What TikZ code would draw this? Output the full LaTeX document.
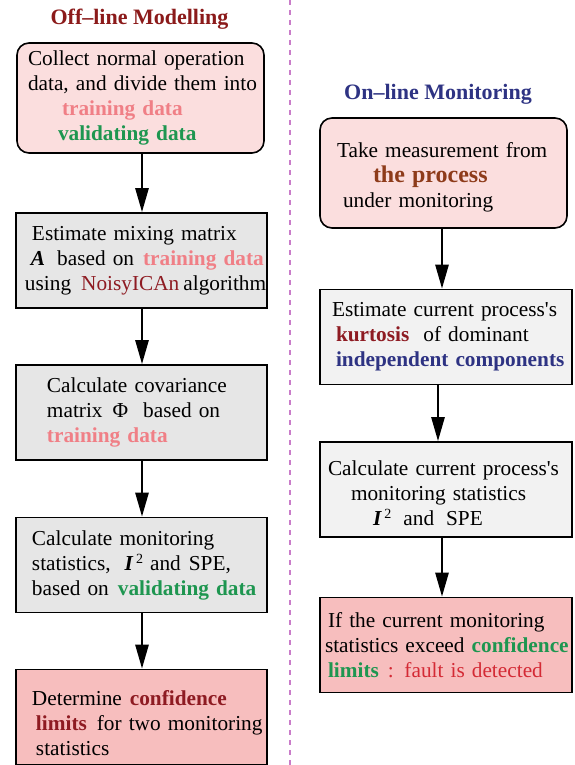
\documentclass[tikz,border=0pt]{standalone}
\usepackage{fontspec}
\setmainfont{Liberation Serif}
\usetikzlibrary{arrows.meta}
\definecolor{offred}{HTML}{8B1A1A}
\definecolor{onblue}{HTML}{2E3383}
\definecolor{trainpink}{HTML}{F07F86}
\definecolor{validgreen}{HTML}{1E9650}
\definecolor{darkred}{HTML}{8E1B22}
\definecolor{procbrown}{HTML}{8E3B1A}
\definecolor{faultred}{HTML}{D42A35}
\definecolor{startpink}{HTML}{FBDEDE}
\definecolor{endpink}{HTML}{F7BEBE}
\definecolor{offgray}{HTML}{E6E6E6}
\definecolor{ongray}{HTML}{F2F2F2}
\definecolor{divider}{HTML}{C97CC9}
\newcommand{\sqstat}{\textbf{\textit{I}}\hspace{2.5pt}\raisebox{7pt}{\fontsize{14pt}{14pt}\selectfont 2}}
\tikzset{stepbox/.style={draw=black, line width=1.6pt, align=left, inner xsep=0pt, minimum height=95pt},
	startbox/.style={stepbox, rounded corners=12pt, fill=startpink, minimum height=110pt},
	offbox/.style={stepbox, fill=offgray, text width=251pt, minimum width=251pt},
	onbox/.style={stepbox, fill=ongray, text width=252pt, minimum width=252pt},
	flow/.style={-{Triangle[length=24pt, width=13pt]}, line width=2.6pt},
	heading/.style={anchor=base, font=\fontsize{22pt}{26pt}\selectfont\bfseries}}

\begin{document}
\begin{tikzpicture}[x=1pt, y=-1pt]
		\fontsize{21.3pt}{25pt}\selectfont
		\useasboundingbox (0,0) rectangle (574,765);
		\draw[divider, line width=1.4pt, dash pattern=on 5pt off 5pt] (290,0) -- (290,765);
		
		% off-line side
		\node[heading, offred] (offtitle) at (139.5,25) {Off–line Modelling};
		\node[startbox, text width=247pt, minimum width=247pt] (collect) at (140.5,98) {%
			\hspace*{11pt}Collect normal operation\\
			\hspace*{11pt}data, and divide them into\\
			\hspace*{45pt}\textcolor{trainpink}{\textbf{training data}}\\
			\hspace*{41pt}\textcolor{validgreen}{\textbf{validating data}}};
		\node[offbox] (mixing) at (141.5,260.5) {%
			\hspace*{16pt}Estimate mixing matrix\\
			\hspace*{15pt}\textbf{\textit{A}}\hspace{12pt}based on\hspace{9pt}\textcolor{trainpink}{\textbf{training data}}\\
			\hspace*{9pt}using\hspace{10pt}\textcolor{darkred}{NoisyICAn}\hspace{4pt}algorithm};
		\node[offbox] (covar) at (141.5,412.5) {%
			\hspace*{31pt}Calculate covariance\\
			\hspace*{31pt}matrix\hspace{10pt}Φ\hspace{15pt}based on\\
			\hspace*{31pt}\textcolor{trainpink}{\textbf{training data}}};
		\node[offbox] (stats) at (141.5,565) {%
			\hspace*{16pt}Calculate monitoring\\
			\hspace*{16pt}statistics,\hspace{14pt}\sqstat\hspace{7pt}and\hspace{8pt}SPE,\\
			\hspace*{16pt}based on\hspace{9pt}\textcolor{validgreen}{\textbf{validating data}}};
		\node[offbox, fill=endpink] (limits) at (141.5,717) {%
			\rule{0pt}{27pt}\hspace*{16pt}Determine\hspace{8pt}\textcolor{darkred}{\textbf{confidence}}\\
			\hspace*{20pt}\textcolor{darkred}{\textbf{limits}}\hspace{10pt}for two monitoring\\
			\hspace*{20pt}statistics};
		
		\draw[flow] ([xshift=1.5pt]collect.south) -- ([xshift=0.5pt]mixing.north);
		\draw[flow] ([xshift=0.5pt]mixing.south) -- ([xshift=0.5pt]covar.north);
		\draw[flow] ([xshift=0.5pt]covar.south) -- ([xshift=0.5pt]stats.north);
		\draw[flow] ([xshift=0.5pt]stats.south) -- ([xshift=0.5pt]limits.north);
		
		% on-line side
		\node[heading, onblue] (ontitle) at (438,100) {On–line Monitoring};
		\node[startbox, text width=247pt, minimum width=247pt] (measure) at (443.5,173) {%
			\rule{0pt}{23pt}\hspace*{17pt}Take measurement from\\
			\hspace*{53pt}\textcolor{procbrown}{\fontsize{24pt}{25pt}\selectfont\textbf{the process}}\\
			\hspace*{23pt}under monitoring};
		\node[onbox] (kurt) at (446,337) {%
			\hspace*{12pt}Estimate current process\textquotesingle s\\
			\hspace*{16pt}\textcolor{darkred}{\textbf{kurtosis}}\hspace{14pt}of dominant\\
			\hspace*{16pt}\textcolor{onblue}{\textbf{independent components}}};
		\node[onbox] (current) at (446,489.5) {%
			\rule{0pt}{23pt}\hspace*{8pt}Calculate current process\textquotesingle s\\
			\hspace*{31pt}monitoring statistics\\
			\hspace*{53pt}\sqstat\hspace{12pt}and\hspace{12pt}SPE};
		\node[onbox, fill=endpink] (fault) at (446,645) {%
			\hspace*{8pt}If the current monitoring\\
			\hspace*{5pt}statistics exceed \textcolor{validgreen}{\textbf{confidence}}\\
			\hspace*{8pt}\textcolor{validgreen}{\textbf{limits}}\hspace{9pt}\textcolor{faultred}{: fault is detected}};
		
		\draw[flow] ([xshift=-1.5pt]measure.south) -- ([xshift=-4pt]kurt.north);
		\draw[flow] ([xshift=-8pt]kurt.south) -- ([xshift=-8pt]current.north);
		\draw[flow] ([xshift=-4pt]current.south) -- ([xshift=-4pt]fault.north);
	\end{tikzpicture}
\end{document}
